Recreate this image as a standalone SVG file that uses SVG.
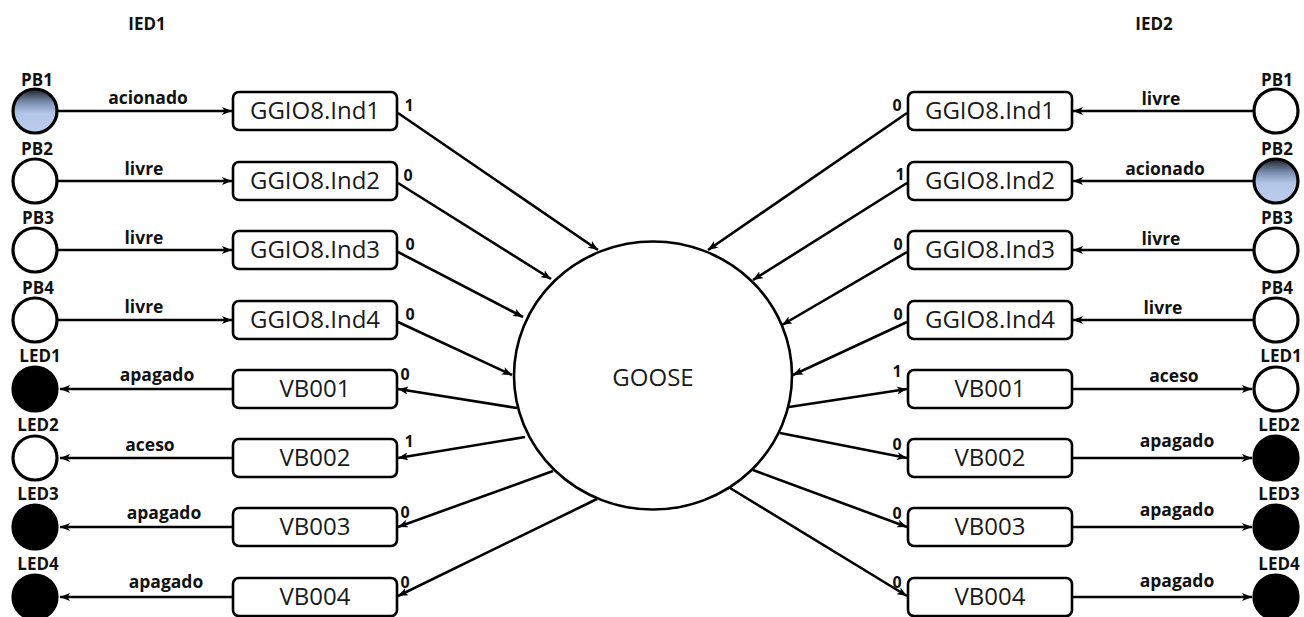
<svg xmlns="http://www.w3.org/2000/svg" width="1304" height="617" viewBox="0 0 1304 617">
  <style>
    .lbl { font-family: "Open Sans", "Liberation Sans", sans-serif; font-weight: bold; font-size: 17.5px; fill: #111; text-anchor: middle; }
    .num { font-family: "Open Sans", "Liberation Sans", sans-serif; font-weight: bold; font-size: 16px; fill: #111; text-anchor: middle; }
    .name { font-family: "Open Sans", "Liberation Sans", sans-serif; font-weight: bold; font-size: 17px; fill: #111; text-anchor: middle; }
    .box rect { fill: #fff; stroke: #000; stroke-width: 2.6; }
    .box text { font-family: "Open Sans", "Liberation Sans", sans-serif; font-size: 24px; fill: #1a1a1a; text-anchor: middle; }
    .off { fill: #fff; stroke: #000; stroke-width: 3.2; }
    .dark { fill: #000; stroke: #000; stroke-width: 3.2; }
    .push { fill: url(#pressed); stroke: #000; stroke-width: 3.2; }
    .wire { stroke: #000; stroke-width: 2.6; fill: none; marker-end: url(#arrow); }
  </style>
  <defs>
    <linearGradient id="pressed" x1="0" y1="0" x2="0" y2="1">
      <stop offset="0" stop-color="#1c2029"/>
      <stop offset="0.3" stop-color="#7a8dae"/>
      <stop offset="0.55" stop-color="#b3c5e6"/>
      <stop offset="1" stop-color="#bdcdee"/>
    </linearGradient>
    <marker id="arrow" markerUnits="userSpaceOnUse" viewBox="0 0 10 8" refX="10" refY="4" markerWidth="10" markerHeight="8" orient="auto">
      <path d="M0,0 L10,4 L0,8 L2.5,4 z" fill="#000"/>
    </marker>
  </defs>

  <!-- device titles -->
  <text class="name" x="147" y="30">IED1</text>
  <text class="name" x="1154" y="30">IED2</text>

  <!-- connectors -->
  <g id="connectors">
    <!-- IED1 inputs -->
    <line class="wire" x1="58" y1="111" x2="232" y2="111"/>
    <line class="wire" x1="58" y1="181" x2="232" y2="181"/>
    <line class="wire" x1="58" y1="250" x2="232" y2="250"/>
    <line class="wire" x1="58" y1="320" x2="232" y2="320"/>
    <!-- IED1 outputs -->
    <line class="wire" x1="233" y1="389" x2="60" y2="389"/>
    <line class="wire" x1="233" y1="458" x2="60" y2="458"/>
    <line class="wire" x1="233" y1="527" x2="60" y2="527"/>
    <line class="wire" x1="233" y1="597" x2="60" y2="597"/>
    <!-- IED1 to GOOSE -->
    <line class="wire" x1="398" y1="113" x2="598" y2="250"/>
    <line class="wire" x1="398" y1="183" x2="551" y2="279"/>
    <line class="wire" x1="398" y1="252" x2="523" y2="317"/>
    <line class="wire" x1="398" y1="322" x2="512" y2="375"/>
    <!-- GOOSE to IED1 -->
    <line class="wire" x1="517" y1="408" x2="398" y2="389"/>
    <line class="wire" x1="525" y1="437" x2="398" y2="458"/>
    <line class="wire" x1="553" y1="471" x2="398" y2="527"/>
    <line class="wire" x1="597" y1="499" x2="398" y2="596"/>
    <!-- IED2 to GOOSE -->
    <line class="wire" x1="907" y1="113" x2="708" y2="250"/>
    <line class="wire" x1="907" y1="183" x2="753" y2="280"/>
    <line class="wire" x1="907" y1="252" x2="782" y2="325"/>
    <line class="wire" x1="907" y1="322" x2="793" y2="375"/>
    <!-- GOOSE to IED2 -->
    <line class="wire" x1="789" y1="407" x2="907" y2="389"/>
    <line class="wire" x1="780" y1="433" x2="907" y2="458"/>
    <line class="wire" x1="753" y1="470" x2="907" y2="527"/>
    <line class="wire" x1="730" y1="488" x2="907" y2="596"/>
    <!-- IED2 inputs -->
    <line class="wire" x1="1254" y1="111" x2="1073" y2="111"/>
    <line class="wire" x1="1254" y1="181" x2="1073" y2="181"/>
    <line class="wire" x1="1254" y1="250" x2="1073" y2="250"/>
    <line class="wire" x1="1254" y1="320" x2="1073" y2="320"/>
    <!-- IED2 outputs -->
    <line class="wire" x1="1072" y1="389" x2="1252" y2="389"/>
    <line class="wire" x1="1072" y1="458" x2="1252" y2="458"/>
    <line class="wire" x1="1072" y1="527" x2="1252" y2="527"/>
    <line class="wire" x1="1072" y1="597" x2="1252" y2="597"/>

    <!-- signal states -->
    <text class="lbl" x="148" y="104">acionado</text>
    <text class="lbl" x="144" y="175">livre</text>
    <text class="lbl" x="144" y="244">livre</text>
    <text class="lbl" x="144" y="313">livre</text>
    <text class="lbl" x="157" y="381">apagado</text>
    <text class="lbl" x="150" y="451">aceso</text>
    <text class="lbl" x="164" y="519">apagado</text>
    <text class="lbl" x="166" y="588">apagado</text>

    <text class="lbl" x="1161" y="105">livre</text>
    <text class="lbl" x="1165" y="175">acionado</text>
    <text class="lbl" x="1161" y="245">livre</text>
    <text class="lbl" x="1163" y="314">livre</text>
    <text class="lbl" x="1174" y="382">aceso</text>
    <text class="lbl" x="1177" y="447">apagado</text>
    <text class="lbl" x="1177" y="516">apagado</text>
    <text class="lbl" x="1177" y="587">apagado</text>

    <!-- bit values -->
    <text class="num" x="409" y="111">1</text>
    <text class="num" x="408" y="181">0</text>
    <text class="num" x="410" y="250">0</text>
    <text class="num" x="410" y="320">0</text>
    <text class="num" x="405" y="380">0</text>
    <text class="num" x="409" y="447">1</text>
    <text class="num" x="405" y="518">0</text>
    <text class="num" x="405" y="588">0</text>

    <text class="num" x="897" y="111">0</text>
    <text class="num" x="900" y="180">1</text>
    <text class="num" x="898" y="250">0</text>
    <text class="num" x="898" y="320">0</text>
    <text class="num" x="897" y="377">1</text>
    <text class="num" x="897" y="450">0</text>
    <text class="num" x="897" y="519">0</text>
    <text class="num" x="897" y="588">0</text>
  </g>

  <!-- GOOSE bus -->
  <g id="goose">
    <ellipse cx="653" cy="375.5" rx="139" ry="134" fill="#fff" stroke="#000" stroke-width="2.6"/>
    <text x="653" y="386" font-family="Open Sans, Liberation Sans, sans-serif" font-size="24" fill="#1a1a1a" text-anchor="middle">GOOSE</text>
  </g>

  <!-- IED1 push buttons and LEDs -->
  <g id="ied1-pb1"><circle class="push" cx="35" cy="111" r="22"/><text class="name" x="37" y="86">PB1</text></g>
  <g id="ied1-pb2"><circle class="off" cx="35" cy="181" r="22"/><text class="name" x="37" y="155">PB2</text></g>
  <g id="ied1-pb3"><circle class="off" cx="35" cy="250" r="22"/><text class="name" x="38" y="224">PB3</text></g>
  <g id="ied1-pb4"><circle class="off" cx="35" cy="320" r="22"/><text class="name" x="38" y="294">PB4</text></g>
  <g id="ied1-led1"><circle class="dark" cx="35" cy="389" r="22"/><text class="name" x="40" y="362">LED1</text></g>
  <g id="ied1-led2"><circle class="off" cx="35" cy="458" r="22"/><text class="name" x="38" y="431">LED2</text></g>
  <g id="ied1-led3"><circle class="dark" cx="35" cy="527" r="22"/><text class="name" x="38" y="500">LED3</text></g>
  <g id="ied1-led4"><circle class="dark" cx="35" cy="597" r="22"/><text class="name" x="38" y="570">LED4</text></g>

  <!-- IED1 logical nodes -->
  <g id="ied1-ind1" class="box"><rect x="233" y="92" width="164" height="38" rx="6"/><text x="315" y="119">GGIO8.Ind1</text></g>
  <g id="ied1-ind2" class="box"><rect x="233" y="162" width="164" height="38" rx="6"/><text x="315" y="189">GGIO8.Ind2</text></g>
  <g id="ied1-ind3" class="box"><rect x="233" y="231" width="164" height="38" rx="6"/><text x="315" y="258">GGIO8.Ind3</text></g>
  <g id="ied1-ind4" class="box"><rect x="233" y="301" width="164" height="38" rx="6"/><text x="315" y="328">GGIO8.Ind4</text></g>
  <g id="ied1-vb001" class="box"><rect x="233" y="370" width="164" height="38" rx="6"/><text x="315" y="397">VB001</text></g>
  <g id="ied1-vb002" class="box"><rect x="233" y="439" width="164" height="38" rx="6"/><text x="315" y="466">VB002</text></g>
  <g id="ied1-vb003" class="box"><rect x="233" y="508" width="164" height="38" rx="6"/><text x="315" y="535">VB003</text></g>
  <g id="ied1-vb004" class="box"><rect x="233" y="578" width="164" height="38" rx="6"/><text x="315" y="605">VB004</text></g>

  <!-- IED2 logical nodes -->
  <g id="ied2-ind1" class="box"><rect x="908" y="92" width="164" height="38" rx="6"/><text x="990" y="119">GGIO8.Ind1</text></g>
  <g id="ied2-ind2" class="box"><rect x="908" y="162" width="164" height="38" rx="6"/><text x="990" y="189">GGIO8.Ind2</text></g>
  <g id="ied2-ind3" class="box"><rect x="908" y="231" width="164" height="38" rx="6"/><text x="990" y="258">GGIO8.Ind3</text></g>
  <g id="ied2-ind4" class="box"><rect x="908" y="301" width="164" height="38" rx="6"/><text x="990" y="328">GGIO8.Ind4</text></g>
  <g id="ied2-vb001" class="box"><rect x="908" y="370" width="164" height="38" rx="6"/><text x="990" y="397">VB001</text></g>
  <g id="ied2-vb002" class="box"><rect x="908" y="439" width="164" height="38" rx="6"/><text x="990" y="466">VB002</text></g>
  <g id="ied2-vb003" class="box"><rect x="908" y="508" width="164" height="38" rx="6"/><text x="990" y="535">VB003</text></g>
  <g id="ied2-vb004" class="box"><rect x="908" y="578" width="164" height="38" rx="6"/><text x="990" y="605">VB004</text></g>

  <!-- IED2 push buttons and LEDs -->
  <g id="ied2-pb1"><circle class="off" cx="1276" cy="111" r="22"/><text class="name" x="1277" y="86">PB1</text></g>
  <g id="ied2-pb2"><circle class="push" cx="1276" cy="181" r="22"/><text class="name" x="1277" y="155">PB2</text></g>
  <g id="ied2-pb3"><circle class="off" cx="1276" cy="250" r="22"/><text class="name" x="1277" y="224">PB3</text></g>
  <g id="ied2-pb4"><circle class="off" cx="1276" cy="320" r="22"/><text class="name" x="1277" y="294">PB4</text></g>
  <g id="ied2-led1"><circle class="off" cx="1276" cy="389" r="22"/><text class="name" x="1281" y="362">LED1</text></g>
  <g id="ied2-led2"><circle class="dark" cx="1276" cy="458" r="22"/><text class="name" x="1279" y="431">LED2</text></g>
  <g id="ied2-led3"><circle class="dark" cx="1276" cy="527" r="22"/><text class="name" x="1279" y="500">LED3</text></g>
  <g id="ied2-led4"><circle class="dark" cx="1276" cy="597" r="22"/><text class="name" x="1279" y="570">LED4</text></g>
</svg>
